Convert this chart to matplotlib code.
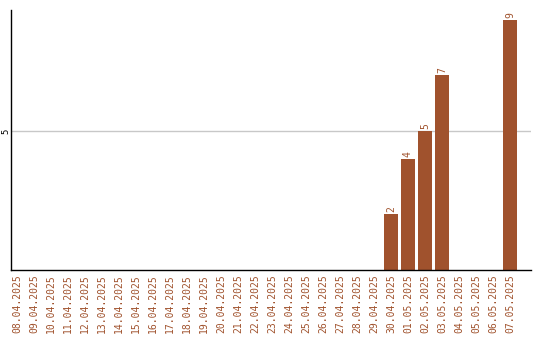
import matplotlib
matplotlib.use("Agg")
import matplotlib.pyplot as plt

dates = ["08.04.2025", "09.04.2025", "10.04.2025", "11.04.2025", "12.04.2025",
         "13.04.2025", "14.04.2025", "15.04.2025", "16.04.2025", "17.04.2025",
         "18.04.2025", "19.04.2025", "20.04.2025", "21.04.2025", "22.04.2025",
         "23.04.2025", "24.04.2025", "25.04.2025", "26.04.2025", "27.04.2025",
         "28.04.2025", "29.04.2025", "30.04.2025", "01.05.2025", "02.05.2025",
         "03.05.2025", "04.05.2025", "05.05.2025", "06.05.2025", "07.05.2025"]
values = [0, 0, 0, 0, 0, 0, 0, 0, 0, 0, 0, 0, 0, 0, 0, 0, 0, 0, 0, 0, 0, 0,
          2, 4, 5, 7, 0, 0, 0, 9]
yticks = [5]

color = "#a0522d"
fig = plt.figure(figsize=(5.4, 3.4), dpi=100)
ax = fig.add_axes([11/540, 70/340, 520/540, 260/340])
x = list(range(len(dates)))
bars = ax.bar(x, values, width=0.82, color=color, zorder=2)
for xi, v in zip(x, values):
    if v > 0:
        ax.text(xi, v + 0.08, str(v), rotation=90, ha="center", va="bottom",
                fontsize=7, family="DejaVu Sans Mono", color=color)
ax.set_xlim(-0.35, 30.24)
ax.set_ylim(0, 9.35)
ax.set_xticks(x)
ax.set_xticklabels(dates, rotation=90, fontsize=7, family="DejaVu Sans Mono", color=color)
ax.set_yticks(yticks)
ax.set_yticklabels([str(t) for t in yticks], rotation=90, fontsize=6.5,
                   family="DejaVu Sans Mono", va="center")
ax.tick_params(axis="x", length=0, pad=3)
ax.tick_params(axis="y", length=0, pad=0.5)
ax.grid(axis="y", color="#c8c8c8", linewidth=1, zorder=0)
ax.spines["top"].set_visible(False)
ax.spines["right"].set_visible(False)
ax.spines["left"].set_linewidth(1)
ax.spines["bottom"].set_linewidth(1)
fig.savefig("out.png", dpi=100)
